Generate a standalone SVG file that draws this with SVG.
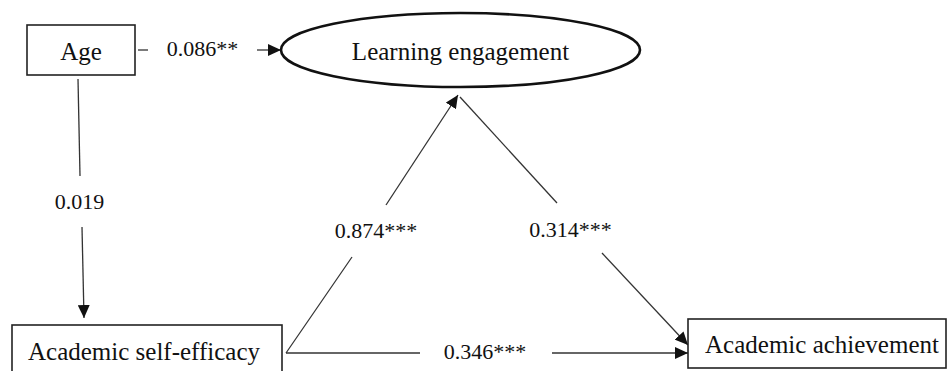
<svg xmlns="http://www.w3.org/2000/svg" width="948" height="371" viewBox="0 0 948 371">
<defs>
<style>
.box{fill:#fff;stroke:#222;stroke-width:1.6}
.ell{fill:#fff;stroke:#111;stroke-width:2.6}
.ln{stroke:#333;stroke-width:1.3;fill:none}
.arr{stroke:#333;stroke-width:1.3;fill:none;marker-end:url(#ah)}
.lbl{font-size:22px}
.nd{font-size:25px}
</style>
<marker id="ah" markerWidth="13" markerHeight="12" refX="13" refY="6" orient="auto" markerUnits="userSpaceOnUse">
<path d="M0,0 L13,6 L0,12 Z" fill="#111"/>
</marker>
</defs>
<rect width="948" height="371" fill="#fff"/>
<g font-family="'Liberation Serif', serif" fill="#111" text-anchor="middle">
<g id="connectors">
<line class="ln" x1="138" y1="50" x2="148" y2="50"/>
<line class="arr" x1="257" y1="50" x2="281" y2="50"/>
<line class="ln" x1="78" y1="79" x2="80" y2="176"/>
<line class="arr" x1="82" y1="227" x2="84" y2="318"/>
<line class="ln" x1="286" y1="353" x2="352" y2="257"/>
<line class="arr" x1="386" y1="205" x2="458" y2="95"/>
<line class="ln" x1="460" y1="97" x2="557" y2="203"/>
<line class="arr" x1="602" y1="253" x2="688" y2="345"/>
<line class="ln" x1="286" y1="353" x2="420" y2="353"/>
<line class="arr" x1="552" y1="353" x2="688" y2="353"/>
<text class="lbl" x="202.5" y="56">0.086**</text>
<text class="lbl" x="79.5" y="209">0.019</text>
<text class="lbl" x="376" y="238">0.874***</text>
<text class="lbl" x="570.5" y="237">0.314***</text>
<text class="lbl" x="485" y="359">0.346***</text>
</g>
<g id="age">
<rect class="box" x="27" y="25" width="108" height="50"/>
<text class="nd" x="81" y="60">Age</text>
</g>
<g id="learning-engagement">
<ellipse class="ell" cx="460.5" cy="50" rx="179.5" ry="37"/>
<text class="nd" x="460.5" y="60">Learning engagement</text>
</g>
<g id="academic-self-efficacy">
<rect class="box" x="12" y="325" width="270" height="50"/>
<text class="nd" x="144" y="360">Academic self-efficacy</text>
</g>
<g id="academic-achievement">
<rect class="box" x="688" y="319" width="258" height="49"/>
<text class="nd" x="822" y="353">Academic achievement</text>
</g>
</g>
</svg>
